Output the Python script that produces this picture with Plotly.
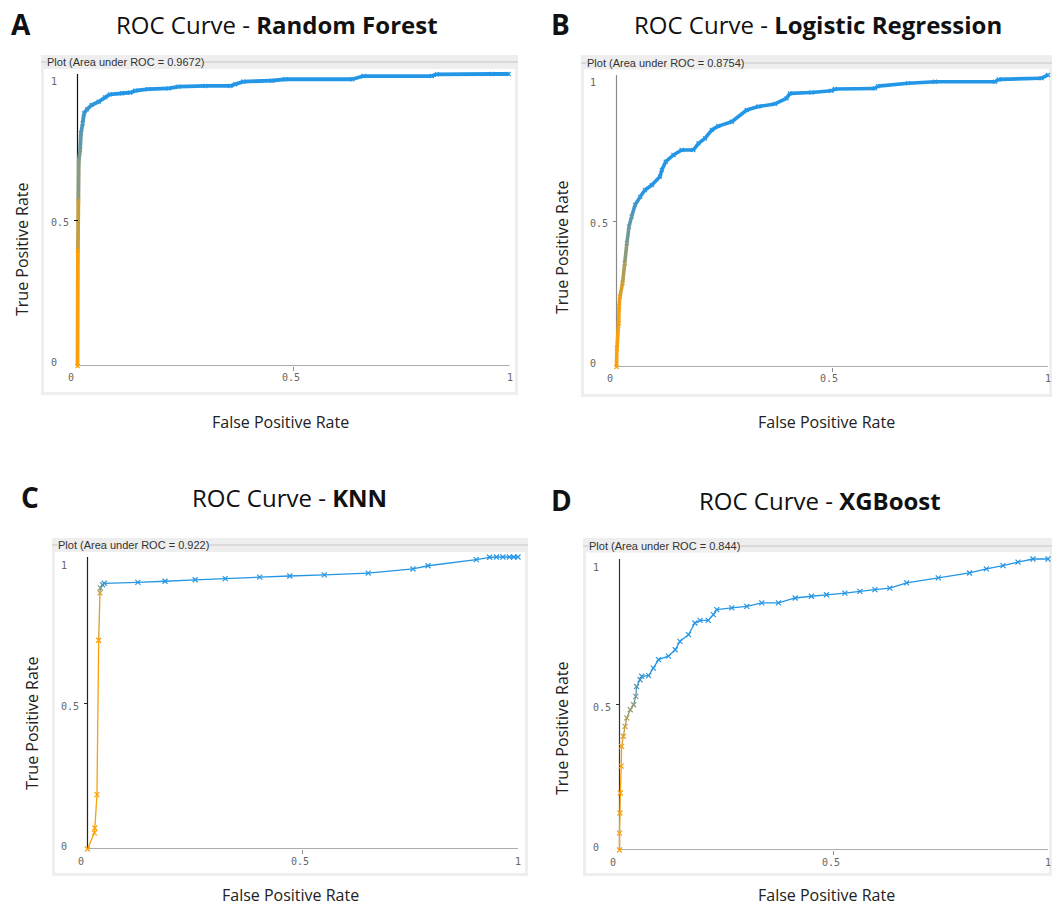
import plotly.graph_objects as go

W, H = 1052, 906

# ---------------- data ----------------
rf_fpr = [0.0, 0.001, 0.002, 0.003, 0.006, 0.008, 0.012, 0.015, 0.022, 0.033, 0.049, 0.064,
          0.075, 0.103, 0.122, 0.134, 0.164, 0.211, 0.234, 0.296, 0.354, 0.365, 0.384, 0.450,
          0.481, 0.636, 0.662, 0.820, 0.832, 0.959, 0.998]
rf_tpr = [0.0, 0.397, 0.568, 0.705, 0.740, 0.797, 0.831, 0.865, 0.879, 0.894, 0.905, 0.920,
          0.930, 0.934, 0.936, 0.943, 0.948, 0.951, 0.957, 0.959, 0.959, 0.965, 0.974, 0.977,
          0.982, 0.982, 0.993, 0.993, 0.999, 1.0, 1.0]

lr_fpr = [0.0, 0.001, 0.005, 0.006, 0.008, 0.014, 0.019, 0.024, 0.029, 0.035, 0.043, 0.055,
          0.066, 0.082, 0.101, 0.105, 0.114, 0.132, 0.151, 0.178, 0.190, 0.205, 0.221, 0.236,
          0.267, 0.302, 0.329, 0.367, 0.394, 0.402, 0.452, 0.498, 0.506, 0.599, 0.606, 0.676,
          0.738, 0.877, 0.886, 0.985, 1.0]
lr_tpr = [0.0, 0.064, 0.150, 0.207, 0.241, 0.287, 0.355, 0.424, 0.481, 0.515, 0.555, 0.583,
          0.606, 0.623, 0.652, 0.675, 0.703, 0.726, 0.743, 0.743, 0.766, 0.783, 0.812, 0.825,
          0.840, 0.880, 0.892, 0.901, 0.920, 0.937, 0.940, 0.946, 0.952, 0.954, 0.962, 0.972,
          0.977, 0.977, 0.985, 0.989, 1.0]

knn_fpr = [0.0, 0.016, 0.017, 0.022, 0.026, 0.029, 0.030, 0.035, 0.039, 0.117, 0.180, 0.250,
           0.320, 0.400, 0.470, 0.550, 0.652, 0.756, 0.791, 0.903, 0.934, 0.950, 0.965, 0.980,
           0.990, 1.0]
knn_tpr = [0.0, 0.055, 0.072, 0.186, 0.715, 0.877, 0.894, 0.905, 0.910, 0.913, 0.917, 0.922,
           0.926, 0.931, 0.935, 0.939, 0.945, 0.959, 0.970, 0.991, 0.999, 1.0, 1.0, 1.0,
           1.0, 1.0]

xgb_fpr = [0.0, 0.0, 0.001, 0.002, 0.004, 0.005, 0.009, 0.013, 0.017, 0.025, 0.033, 0.038,
           0.040, 0.048, 0.052, 0.068, 0.079, 0.091, 0.114, 0.130, 0.141, 0.161, 0.176, 0.188,
           0.207, 0.219, 0.227, 0.262, 0.297, 0.332, 0.371, 0.410, 0.448, 0.483, 0.526, 0.561,
           0.596, 0.631, 0.670, 0.744, 0.817, 0.856, 0.895, 0.930, 0.965, 1.0]
xgb_tpr = [0.0, 0.058, 0.127, 0.196, 0.288, 0.356, 0.391, 0.425, 0.454, 0.482, 0.499, 0.528,
           0.562, 0.585, 0.597, 0.599, 0.625, 0.654, 0.666, 0.688, 0.717, 0.740, 0.780, 0.789,
           0.789, 0.809, 0.826, 0.832, 0.837, 0.849, 0.849, 0.866, 0.872, 0.877, 0.883, 0.889,
           0.895, 0.900, 0.918, 0.935, 0.952, 0.966, 0.977, 0.989, 1.0, 1.0]

letters = ["A", "B", "C", "D"]
models = ["Random Forest", "Logistic Regression", "KNN", "XGBoost"]
auc_labels = ["0.9672", "0.8754", "0.922", "0.844"]
fpr_sets = [rf_fpr, lr_fpr, knn_fpr, xgb_fpr]
tpr_sets = [rf_tpr, lr_tpr, knn_tpr, xgb_tpr]
tick_vals = [0, 0.5, 1]
tick_text = ["0", "0.5", "1"]

# ---------------- layout / style ----------------
# axis box in pixels: left, right, top, bottom
boxes = [(77.5, 509.5, 74, 366), (616.5, 1048, 75, 367), (87.5, 518, 557, 849), (619.5, 1048, 559, 850)]
# outer frame in pixels: left, right, top, bottom, title-line y
frames = [(41, 518, 55, 395, 62), (581, 1052, 55, 397, 63), (52, 528, 538, 876, 545), (583, 1052, 538, 876, 546)]
titles_pos = [(277, 24), (818, 24), (289, 497), (820, 500)]
letters_pos = [(21, 24), (560, 24), (30, 497), (561, 500)]
ylab_pos = [(22, 249), (562, 247), (32, 723), (562, 728)]
xlab_pos = [(280, 422), (826, 422), (290, 895), (826, 895)]
yline_col = ["#111111", "#8a8a8a", "#222222", "#333333"]
color_ranges = [(0.45, 0.93), (0.22, 0.62), (0.87, 0.915), (0.36, 0.62)]
line_w = [3.8, 3.6, 1.3, 1.3]
mark_sz = [4, 4, 5, 5]
PAD_L, PAD_R, PAD_T = 5, 4, 4   # extra pixels so curves on the box edge are not clipped

ORANGE = (250, 160, 10)
BLUE = (35, 150, 230)


def col(t, lo, hi):
    f = 0.0 if t <= lo else (1.0 if t >= hi else (t - lo) / (hi - lo))
    r = [round(ORANGE[i] + (BLUE[i] - ORANGE[i]) * f) for i in range(3)]
    return f"rgb({r[0]},{r[1]},{r[2]})"


def px(x):
    return x / W


def py(y):
    return 1 - y / H


fig = go.Figure()
frame_shapes = []
axis_shapes = []
annotations = []
layout_axes = {}

for i in range(4):
    sfx = "" if i == 0 else str(i + 1)
    xa, ya = "x" + sfx, "y" + sfx
    l, r, t, b = boxes[i]
    fl, fr, ft, fb, fy = frames[i]
    wpx, hpx = r - l, b - t

    # frame (Weka panel look)
    frame_shapes.append(dict(type="rect", xref="paper", yref="paper", x0=px(fl), x1=px(fr), y0=py(fb), y1=py(ft),
                             fillcolor="#eeeeee", line=dict(width=0), layer="below"))
    frame_shapes.append(dict(type="rect", xref="paper", yref="paper", x0=px(fl + 3), x1=px(fr - 3), y0=py(fb - 3),
                             y1=py(ft + 14), fillcolor="white", line=dict(width=0), layer="below"))
    frame_shapes.append(dict(type="line", xref="paper", yref="paper", x0=px(fl), x1=px(fr), y0=py(fy), y1=py(fy),
                             line=dict(color="#c6c6c6", width=1), layer="below"))
    annotations.append(dict(text=f"Plot (Area under ROC = {auc_labels[i]})", xref="paper", yref="paper",
                            x=px(fl + 5), y=py(fy), xanchor="left", yanchor="middle", showarrow=False,
                            bgcolor="#eeeeee", borderpad=0,
                            font=dict(family="Liberation Sans, Arial", size=11, color="#333333")))

    # axis lines (drawn beneath the curve, like the reference)
    axis_shapes.append(dict(type="line", xref=xa, yref=ya, x0=0, x1=1, y0=0, y1=0, layer="below",
                            line=dict(color="#8f8f8f", width=1.5)))
    axis_shapes.append(dict(type="line", xref=xa, yref=ya, x0=0, x1=0, y0=0, y1=1, layer="below",
                            line=dict(color=yline_col[i], width=1.2)))

    fpr, tpr = fpr_sets[i], tpr_sets[i]
    lo, hi = color_ranges[i]
    # coloured segments
    for k in range(len(fpr) - 1):
        fig.add_trace(go.Scatter(x=[fpr[k], fpr[k + 1]], y=[tpr[k], tpr[k + 1]], mode="lines",
                                 xaxis=xa, yaxis=ya, showlegend=False, hoverinfo="skip", cliponaxis=False,
                                 line=dict(color=col(tpr[k + 1], lo, hi), width=line_w[i])))
    fig.add_trace(go.Scatter(x=fpr, y=tpr, mode="markers", xaxis=xa, yaxis=ya, showlegend=False,
                             cliponaxis=False,
                             marker=dict(symbol="x-thin", size=mark_sz[i],
                                         color=[col(v, lo, hi) for v in tpr],
                                         line=dict(width=1.2, color=[col(v, lo, hi) for v in tpr]))))

    common = dict(showgrid=False, zeroline=False, showline=False, ticks="outside",
                  tickvals=[0.5], ticklen=4, showticklabels=False, fixedrange=True)
    layout_axes["xaxis" + sfx] = dict(common, domain=[px(l - PAD_L), px(r + PAD_R)],
                                      range=[-PAD_L / wpx, 1 + PAD_R / wpx], anchor=ya,
                                      tickcolor="#8f8f8f", tickwidth=1)
    layout_axes["yaxis" + sfx] = dict(common, domain=[py(b), py(t - PAD_T)], range=[0, 1 + PAD_T / hpx],
                                      anchor="free", position=px(l),
                                      tickcolor=yline_col[i], tickwidth=1)

    tick_font = dict(family="DejaVu Sans Mono, Liberation Mono, monospace", size=10, color="#666666")
    yshifts = [3, -3, -8]
    for v, txt, ys in zip(tick_vals, tick_text, yshifts):
        annotations.append(dict(text=txt, xref=xa, yref=ya, x=0, y=v, xanchor="left", yanchor="middle",
                                xshift=-29, yshift=ys, showarrow=False, font=tick_font))
    xshifts = [-7, -3, 0]
    for v, txt, xs in zip(tick_vals, tick_text, xshifts):
        annotations.append(dict(text=txt, xref=xa, yref=ya, x=v, y=0, xanchor="center", yanchor="middle",
                                xshift=xs, yshift=-12, showarrow=False, font=tick_font))

    # titles and labels
    tx, ty = titles_pos[i]
    annotations.append(dict(text=f"ROC Curve - <b>{models[i]}</b>", xref="paper", yref="paper",
                            x=px(tx), y=py(ty), xanchor="center", yanchor="middle", showarrow=False,
                            font=dict(family="Open Sans", size=24, color="#111111")))
    lx, ly = letters_pos[i]
    annotations.append(dict(text=f"<b>{letters[i]}</b>", xref="paper", yref="paper",
                            x=px(lx), y=py(ly), xanchor="center", yanchor="middle", showarrow=False,
                            font=dict(family="Open Sans", size=28, color="#111111")))
    yx, yy = ylab_pos[i]
    annotations.append(dict(text="True Positive Rate", xref="paper", yref="paper", textangle=-90,
                            x=px(yx), y=py(yy), xanchor="center", yanchor="middle", showarrow=False,
                            font=dict(family="Open Sans", size=16, color="#222222")))
    xx, xy = xlab_pos[i]
    annotations.append(dict(text="False Positive Rate", xref="paper", yref="paper",
                            x=px(xx), y=py(xy), xanchor="center", yanchor="middle", showarrow=False,
                            font=dict(family="Open Sans", size=16, color="#222222")))

fig.update_layout(width=W, height=H, margin=dict(l=0, r=0, t=0, b=0, pad=0),
                  paper_bgcolor="white", plot_bgcolor="rgba(0,0,0,0)",
                  shapes=frame_shapes + axis_shapes, annotations=annotations, **layout_axes)

fig.write_html("out.html", config={"displayModeBar": False},
               post_script="document.body.style.margin='0';document.body.style.overflow='hidden';")
